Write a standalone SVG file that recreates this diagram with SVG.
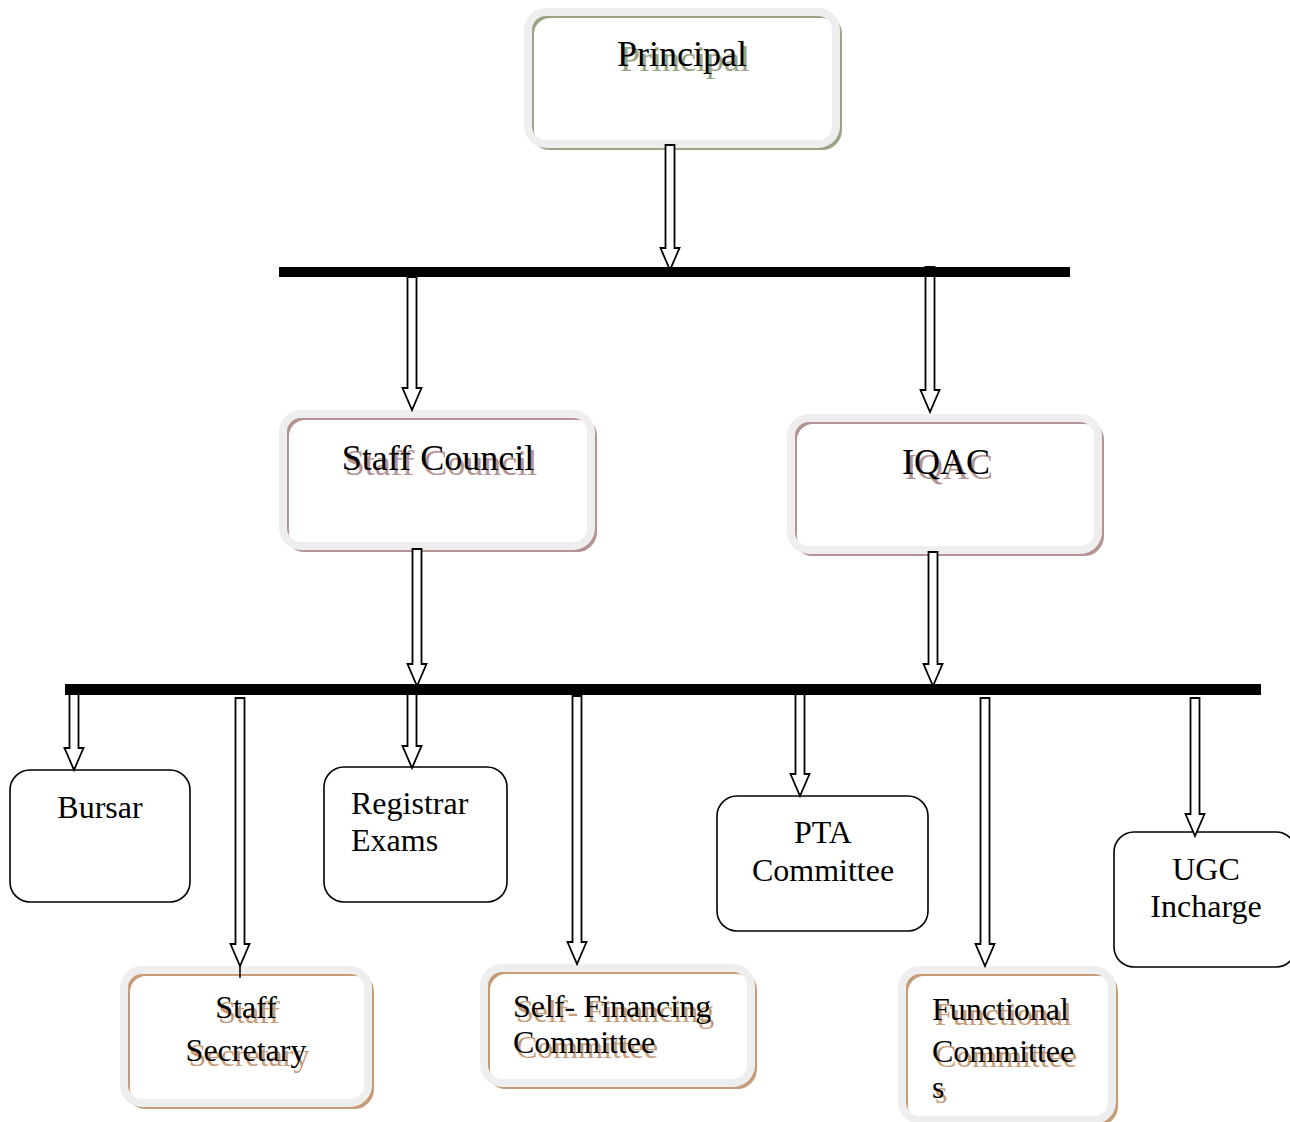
<svg xmlns="http://www.w3.org/2000/svg" width="1290" height="1122" viewBox="0 0 1290 1122">
<style>
.t{font-family:"Liberation Serif","Times New Roman",serif;fill:#000}
.big{font-size:36px}
.sm{font-size:32px}
.frame{fill:none;stroke:#eeeeee;stroke-width:8}
.plain{fill:#fff;stroke:#000;stroke-width:1.6}
.arr{fill:#fff;stroke:#000;stroke-width:1.8;stroke-linejoin:miter}
.bar{fill:#000}
.g{stroke:#9aa585}
.gt{fill:#9aa585}
.m{stroke:#b39393}
.mt{fill:#b39393}
.b{stroke:#c69c78}
.bt{fill:#c69c78}
</style>
<rect width="1290" height="1122" fill="#fff"/>

<g id="principal">
<rect x="532" y="16" width="308" height="132" rx="18" fill="#fff" stroke-width="4" class="g"/>
<rect x="528" y="12" width="308" height="132" rx="18" class="frame"/>
<text x="685" y="71" text-anchor="middle" class="t big gt">Principal</text>
<text x="682" y="66" text-anchor="middle" class="t big">Principal</text>
</g>

<g id="staff-council">
<rect x="287" y="418" width="308" height="132" rx="18" fill="#fff" stroke-width="4" class="m"/>
<rect x="283" y="414" width="308" height="132" rx="18" class="frame"/>
<text x="441" y="475" text-anchor="middle" class="t big mt">Staff Council</text>
<text x="438" y="470" text-anchor="middle" class="t big">Staff Council</text>
</g>

<g id="iqac">
<rect x="795" y="422" width="307" height="132" rx="18" fill="#fff" stroke-width="4" class="m"/>
<rect x="791" y="418" width="307" height="132" rx="18" class="frame"/>
<text x="949" y="479" text-anchor="middle" class="t big mt">IQAC</text>
<text x="946" y="474" text-anchor="middle" class="t big">IQAC</text>
</g>

<g id="bursar">
<rect x="10" y="770" width="180" height="132" rx="20" class="plain"/>
<text x="100" y="818" text-anchor="middle" class="t sm">Bursar</text>
</g>

<g id="registrar-exams">
<rect x="324" y="767" width="183" height="135" rx="20" class="plain"/>
<text x="351" y="814" class="t sm">Registrar</text>
<text x="351" y="851" class="t sm">Exams</text>
</g>

<g id="pta-committee">
<rect x="717" y="796" width="211" height="135" rx="20" class="plain"/>
<text x="823" y="843" text-anchor="middle" class="t sm">PTA</text>
<text x="823" y="881" text-anchor="middle" class="t sm">Committee</text>
</g>

<g id="ugc-incharge">
<rect x="1114" y="832" width="182" height="135" rx="20" class="plain"/>
<text x="1206" y="880" text-anchor="middle" class="t sm">UGC</text>
<text x="1206" y="917" text-anchor="middle" class="t sm">Incharge</text>
</g>

<g id="staff-secretary">
<rect x="128" y="974" width="244" height="133" rx="18" fill="#fff" stroke-width="4" class="b"/>
<rect x="124" y="970" width="244" height="133" rx="18" class="frame"/>
<text x="249" y="1023" text-anchor="middle" class="t sm bt">Staff</text>
<text x="246" y="1018" text-anchor="middle" class="t sm">Staff</text>
<text x="249" y="1066" text-anchor="middle" class="t sm bt">Secretary</text>
<text x="246" y="1061" text-anchor="middle" class="t sm">Secretary</text>
</g>

<g id="self-financing-committee">
<rect x="488" y="972" width="267" height="115" rx="18" fill="#fff" stroke-width="4" class="b"/>
<rect x="484" y="968" width="267" height="115" rx="18" class="frame"/>
<text x="516" y="1022" class="t sm bt">Self- Financing</text>
<text x="513" y="1017" class="t sm">Self- Financing</text>
<text x="516" y="1058" class="t sm bt">Committee</text>
<text x="513" y="1053" class="t sm">Committee</text>
</g>

<g id="functional-committees">
<rect x="906" y="974" width="210" height="150" rx="18" fill="#fff" stroke-width="4" class="b"/>
<rect x="902" y="970" width="210" height="150" rx="18" class="frame"/>
<text x="935" y="1025" class="t sm bt">Functional</text>
<text x="932" y="1020" class="t sm">Functional</text>
<text x="935" y="1067" class="t sm bt">Committee</text>
<text x="932" y="1062" class="t sm">Committee</text>
<text x="935" y="1103" class="t sm bt">s</text>
<text x="932" y="1098" class="t sm">s</text>
</g>

<g id="connectors">
<path class="arr" d="M665.5,145 H674.5 V248 H679.5 L670,270 L660.5,248 H665.5 Z"/>
<path class="arr" d="M407.5,277 H416.5 V388 H421.5 L412,410 L402.5,388 H407.5 Z"/>
<path class="arr" d="M925.5,267 H934.5 V390 H939.5 L930,412 L920.5,390 H925.5 Z"/>
<path class="arr" d="M412.5,549 H421.5 V664 H426.5 L417,686 L407.5,664 H412.5 Z"/>
<path class="arr" d="M928.5,552 H937.5 V664 H942.5 L933,686 L923.5,664 H928.5 Z"/>
<path class="arr" d="M69.5,694 H78.5 V748 H83.5 L74,770 L64.5,748 H69.5 Z"/>
<path class="arr" d="M235.5,698 H244.5 V944 H249.5 L240,966 L230.5,944 H235.5 Z"/>
<line x1="240" y1="966" x2="240" y2="978" stroke="#000" stroke-width="1.5"/>
<path class="arr" d="M407.5,694 H416.5 V746 H421.5 L412,768 L402.5,746 H407.5 Z"/>
<path class="arr" d="M572.5,696 H581.5 V942 H586.5 L577,964 L567.5,942 H572.5 Z"/>
<path class="arr" d="M795.5,694 H804.5 V774 H809.5 L800,796 L790.5,774 H795.5 Z"/>
<path class="arr" d="M980.5,698 H989.5 V944 H994.5 L985,966 L975.5,944 H980.5 Z"/>
<path class="arr" d="M1190.5,698 H1199.5 V814 H1204.5 L1195,836 L1185.5,814 H1190.5 Z"/>
<rect class="bar" x="279" y="267" width="791" height="10"/>
<rect class="bar" x="65" y="684" width="1196" height="11"/>
</g>
</svg>
